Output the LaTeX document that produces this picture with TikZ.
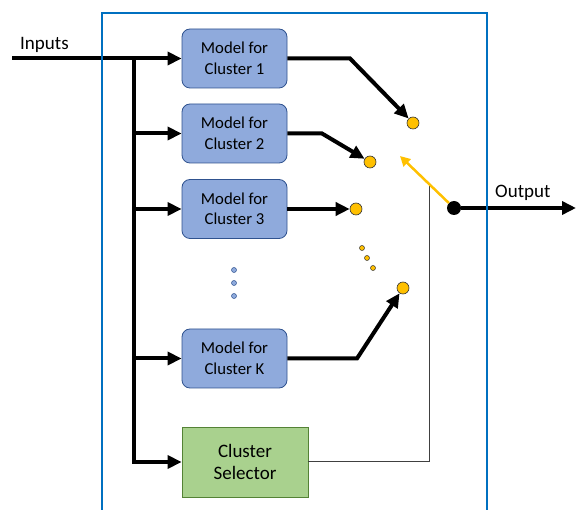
\documentclass[tikz,border=0pt]{standalone}
\usepackage{fontspec}
\setmainfont{Carlito}
\usetikzlibrary{arrows.meta}
\definecolor{modelfill}{HTML}{8FAADC}
\definecolor{modeldraw}{HTML}{2F528F}
\definecolor{selfill}{HTML}{A9D18E}
\definecolor{seldraw}{HTML}{548235}
\definecolor{frameblue}{HTML}{0070C0}
\definecolor{gold}{HTML}{FFC000}
\begin{document}
\begin{tikzpicture}[x=1pt,y=-1pt,
 model/.style={draw=modeldraw, fill=modelfill, rounded corners=8pt, minimum width=105pt, minimum height=59pt, align=center, font=\fontsize{16.7}{20.5}\selectfont, inner sep=0pt, line width=0.8pt},
 selbox/.style={draw=seldraw, fill=selfill, minimum width=126pt, minimum height=70pt, align=center, font=\fontsize{19}{22.5}\selectfont, inner sep=0pt, line width=0.8pt},
 thickline/.style={line width=4pt},
 arr/.style={line width=4pt, -{Triangle[length=14pt,width=13pt]}},
 port/.style={circle, draw=black!80, fill=gold, minimum size=12pt, inner sep=0pt, line width=0.6pt},
 smalldot/.style={circle, draw=black!80, fill=gold, minimum size=5pt, inner sep=0pt, line width=0.5pt},
 bdot/.style={circle, draw=modeldraw, fill=modelfill, minimum size=5pt, inner sep=0pt, line width=0.5pt},
 lbl/.style={font=\fontsize{19}{22}\selectfont, inner sep=0pt, anchor=base west},
]
\useasboundingbox (0,0) rectangle (576,510);

% boxes
\node[model] (m1) at (234.5,58.5) {Model for\\Cluster 1};
\node[model] (m2) at (234.5,133.5) {Model for\\Cluster 2};
\node[model] (m3) at (234.5,209) {Model for\\Cluster 3};
\node[model] (mk) at (234.5,358.5) {Model for\\Cluster K};
\node[selbox] (sel) at (245,462) {Cluster\\Selector};

% vertical blue dots
\node[bdot] (v1) at (234,270) {};
\node[bdot] (v2) at (234,283) {};
\node[bdot] (v3) at (234,296) {};

% switch ports
\node[port] (c1) at (413,123) {};
\node[port] (c2) at (370,162) {};
\node[port] (c3) at (356,209) {};
\node[port] (ck) at (403,288) {};
\node[smalldot] (d1) at (362,248) {};
\node[smalldot] (d2) at (367,258) {};
\node[smalldot] (d3) at (373,268) {};

% output dot
\node[circle, fill=black, minimum size=14pt, inner sep=0pt] (out) at (454,208) {};

% coordinates
\coordinate (inL) at (12,58.5);
\coordinate (j1) at (134,58.5);
\coordinate (b1) at (350,58.5);
\coordinate (b2) at (322,133.5);
\coordinate (bk) at (357,358.5);
\coordinate (oe) at (576,208);
\coordinate (ya) at (400,156);
\coordinate (sw1) at (429,462);
\coordinate (sw2) at (429,186);

% inputs
\draw[thickline] (inL) -- (j1);
\draw[arr] (j1) -- (m1.west);
\draw[thickline] (j1) -- (j1 |- sel.west);
\draw[arr] (j1 |- m2.west) -- (m2.west);
\draw[arr] (j1 |- m3.west) -- (m3.west);
\draw[arr] (j1 |- mk.west) -- (mk.west);
\draw[arr] ([xshift=-2pt]j1 |- sel.west) -- (sel.west);

% outputs
\draw[arr] (m1.east) -- (b1) -- (c1);
\draw[arr] (m2.east) -- (b2) -- (c2);
\draw[arr] (m3.east) -- (c3);
\draw[arr] (mk.east) -- (bk) -- (ck);

% selector line
\draw[black!75, line width=1pt] (sel.east) -- (sw1) -- (sw2);

% switch arm
\draw[gold, line width=2.5pt, -{Triangle[length=10pt,width=10pt]}] (out) -- (ya);

% output
\draw[arr] (out) -- (oe);

% labels
\node[lbl] (inlbl) at (20,50) {Inputs};
\node[lbl] (outlbl) at (495,198) {Output};

% frame
\draw[frameblue, line width=2pt] (102,515) -- (102,13) -- (487,13) -- (487,515);
\end{tikzpicture}
\end{document}
